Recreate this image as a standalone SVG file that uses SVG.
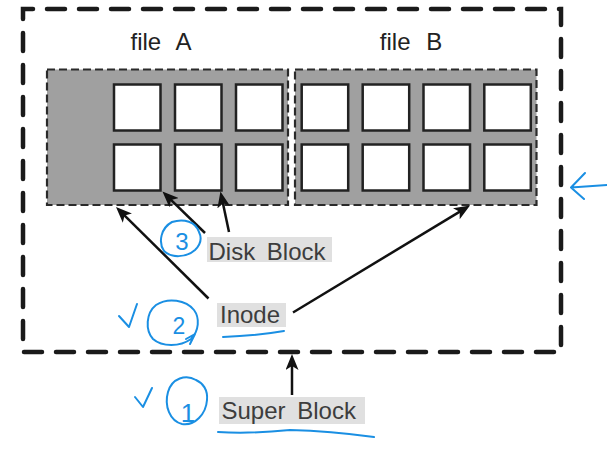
<svg xmlns="http://www.w3.org/2000/svg" width="607" height="456" viewBox="0 0 607 456">
<style>
.outer{fill:none;stroke:#1a1a1a;stroke-width:4.5;stroke-dasharray:18 14;stroke-dashoffset:8;stroke-linecap:round}
.grp{fill:#a0a0a0;stroke:#2a2a2a;stroke-width:2.2;stroke-dasharray:8 4}
.blk{fill:#fff;stroke:#222;stroke-width:2.5}
.title{font-family:"Liberation Sans",Arial,sans-serif;font-size:24px;fill:#222;word-spacing:9px}
.lblbg{fill:#e0e0e0}
.lbl{font-family:"Liberation Sans",Arial,sans-serif;font-size:24px;fill:#3d3d3d;word-spacing:5px}
.conn{stroke:#111;stroke-width:2.5;fill:none;marker-end:url(#ah)}
.pen{fill:none;stroke:#1a8fe3;stroke-width:2;stroke-linecap:round;stroke-linejoin:round}
.pentxt{font-family:"Liberation Sans",Arial,sans-serif;fill:#1a8fe3}
</style>
<defs>
<marker id="ah" viewBox="0 0 16 13" refX="7" refY="6.5" markerWidth="16" markerHeight="13" orient="auto" markerUnits="userSpaceOnUse">
<path d="M0,0 L16,6.5 L0,13 L4,6.5 z" fill="#111"/>
</marker>
</defs>
<rect width="607" height="456" fill="#fff"/>
<g id="super-block-region">
<rect class="outer" x="23" y="9" width="538" height="343"/>
</g>
<g id="file-A">
<text class="title" x="161" y="50" text-anchor="middle">file A</text>
<rect class="grp" x="47" y="69.5" width="241" height="135.5"/>
<rect class="blk" x="114" y="84.5" width="46.5" height="46"/>
<rect class="blk" x="175" y="84.5" width="46.5" height="46"/>
<rect class="blk" x="236" y="84.5" width="46.5" height="46"/>
<rect class="blk" x="114" y="144.5" width="46.5" height="46"/>
<rect class="blk" x="175" y="144.5" width="46.5" height="46"/>
<rect class="blk" x="236" y="144.5" width="46.5" height="46"/>
</g>
<g id="file-B">
<text class="title" x="411" y="50" text-anchor="middle">file B</text>
<rect class="grp" x="295" y="69.5" width="241.5" height="135.5"/>
<rect class="blk" x="301.7" y="84.5" width="46.5" height="46"/>
<rect class="blk" x="362.7" y="84.5" width="46.5" height="46"/>
<rect class="blk" x="423.5" y="84.5" width="46.5" height="46"/>
<rect class="blk" x="484.3" y="84.5" width="46.5" height="46"/>
<rect class="blk" x="301.7" y="144.5" width="46.5" height="46"/>
<rect class="blk" x="362.7" y="144.5" width="46.5" height="46"/>
<rect class="blk" x="423.5" y="144.5" width="46.5" height="46"/>
<rect class="blk" x="484.3" y="144.5" width="46.5" height="46"/>
</g>
<g id="disk-block">
<rect class="lblbg" x="207" y="237" width="125" height="25"/>
<text class="lbl" x="208.5" y="259.5">Disk Block</text>
</g>
<g id="inode">
<rect class="lblbg" x="217" y="303" width="69" height="24"/>
<text class="lbl" x="220" y="323">Inode</text>
</g>
<g id="super-block">
<rect class="lblbg" x="219" y="397" width="146" height="27"/>
<text class="lbl" x="221.5" y="419">Super Block</text>
</g>
<g id="connectors">
<line class="conn" x1="208.5" y1="298.5" x2="122.4" y2="213.3"/>
<line class="conn" x1="293" y1="312.5" x2="462.3" y2="210.1"/>
<line class="conn" x1="205" y1="233" x2="168.9" y2="197.8"/>
<line class="conn" x1="229" y1="232" x2="222.3" y2="200.3"/>
<line class="conn" x1="292" y1="395" x2="292" y2="363"/>
</g>
<g id="annotations">
<path class="pen" d="M199,232 C196,222 184,218 172,222 C161,228 158,242 164,251 C171,258 186,258 195,250 C201,244 202,238 199,232"/>
<text class="pentxt" x="182" y="250" font-size="24" text-anchor="middle">3</text>
<path class="pen" d="M119,316 L129,327 L137,304"/>
<path class="pen" d="M194,310 C186,300 168,297 156,305 C146,313 145,330 153,339 C162,347 180,347 191,339 C199,331 200,318 194,310 M186,339 L195,334 L190,344"/>
<text class="pentxt" x="179" y="334" font-size="23" text-anchor="middle">2</text>
<path class="pen" d="M223,337 Q255,336 284,331"/>
<path class="pen" d="M135,397 L143,407 L152,388"/>
<path class="pen" d="M196,380 C186,374 172,378 168,392 C164,406 170,421 182,424 C195,426 206,414 207,400 C208,390 203,383 196,380"/>
<text class="pentxt" x="188" y="422" font-size="26" text-anchor="middle">1</text>
<path class="pen" d="M218,432 Q250,434 290,430 Q330,431 374,437"/>
<path class="pen" d="M585,173 L571,187.5 L584,199 M571,187.5 L607,185"/>
</g>
</svg>
